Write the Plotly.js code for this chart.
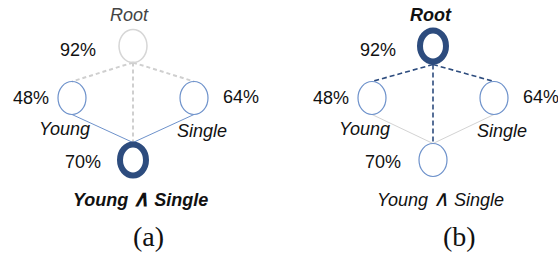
<!DOCTYPE html>
<html>
<head>
<meta charset="utf-8">
<script src="https://cdn.plot.ly/plotly-3.0.1.min.js"></script>
<style>html,body{margin:0;padding:0;background:#fff;}#chart{width:558px;height:261px;}</style>
</head>
<body>
<div id="chart"></div>
<script>
// ---- data ----
const panels = ["(a)", "(b)"];
const nodeNames = ["Root", "Young", "Single", "Young ∧ Single"];
const nodeSupport = ["92%", "48%", "64%", "70%"];
const nodeCol = [0, -1, 1, 0];      // column within lattice
const nodeLevel = [0, 1, 1, 2];     // lattice level
const edgesFrom = [0, 0, 0, 1, 2];
const edgesTo = [1, 2, 3, 3, 3];
const highlighted = [3, 0];         // highlighted node per panel

// ---- layout / style helpers ----
const panelX = [133, 433];
const colStep = 61;
const levelY = [46, 98, 160];
const navy = "#2D4C7E";
const lightBlue = "#6E92CB";
const grayLine = "#CFCFCF";
const grayEdge = "#D3D3D3";

function nx(p, i) { return panelX[p] + nodeCol[i] * colStep; }
function ny(i) { return levelY[nodeLevel[i]]; }
function isHi(p, i) { return highlighted[p] === i; }
function rx(p, i) { return isHi(p, i) ? 13 : 14; }
function ry(p, i) { return isHi(p, i) ? 15.5 : 16.5; }

const traces = [];
const shapes = [];
const annotations = [];

function fmtName(nm) {
  return nm.replace("∧", '<span style="font-size:22px">∧</span>');
}

panels.forEach((pl, p) => {
  // edges
  edgesFrom.forEach((f, k) => {
    const t = edgesTo[k];
    const fromRoot = f === 0;
    let color, dash, width;
    if (p === 0) {
      if (fromRoot) { color = grayLine; dash = "4px,3px"; width = 2; }
      else { color = lightBlue; dash = "solid"; width = 1; }
    } else {
      if (fromRoot) { color = navy; dash = "5px,3px"; width = 1.6; }
      else { color = grayEdge; dash = "solid"; width = 1; }
    }
    traces.push({
      type: "scatter", mode: "lines", hoverinfo: "skip", showlegend: false,
      x: [nx(p, f), nx(p, t)],
      y: [ny(f) + ry(p, f) + (isHi(p, f) ? 3 : 0), ny(t) - ry(p, t) - (isHi(p, t) ? 2 : 0)],
      line: { color: color, dash: dash, width: width }
    });
  });
  // nodes
  nodeNames.forEach((nm, i) => {
    const hi = isHi(p, i);
    let col = hi ? navy : lightBlue;
    let w = hi ? 6 : 1.2;
    if (!hi && i === 0) { col = "#D6D6D6"; w = 1.5; }
    shapes.push({
      type: "circle", xref: "x", yref: "y",
      x0: nx(p, i) - rx(p, i), x1: nx(p, i) + rx(p, i),
      y0: ny(i) - ry(p, i), y1: ny(i) + ry(p, i),
      line: { color: col, width: w }, fillcolor: "rgba(0,0,0,0)"
    });
  });
  // labels
  const font = { family: "Liberation Sans, Arial, sans-serif", size: 18, color: "#111" };
  const nameOff = [[-4, -31], [-8, 31], [8, 33], [7, 38]];
  nodeNames.forEach((nm, i) => {
    const hi = isHi(p, i);
    const inner = fmtName(nm);
    const txt = hi ? "<b><i>" + inner + "</i></b>" : "<i>" + inner + "</i>";
    let c = "#111";
    if (p === 0 && i === 0) c = "#444";
    annotations.push({
      xref: "x", yref: "y", x: nx(p, i) + nameOff[i][0] + (p === 1 && i === 0 ? 2 : 0), y: ny(i) + nameOff[i][1],
      text: txt, showarrow: false, xanchor: "center", yanchor: "middle",
      font: Object.assign({}, font, { color: c })
    });
  });
  const supOff = [[-55, 4], [-41, 0], [47, -1], [-50, 2]];
  nodeSupport.forEach((s, i) => {
    annotations.push({
      xref: "x", yref: "y", x: nx(p, i) + supOff[i][0], y: ny(i) + supOff[i][1],
      text: s, showarrow: false, xanchor: "center", yanchor: "middle", font: font
    });
  });
  // panel label
  annotations.push({
    xref: "x", yref: "y", x: panelX[p] + 15 + p * 11, y: 236,
    text: pl, showarrow: false, xanchor: "center", yanchor: "middle",
    font: { family: "Liberation Serif, Times New Roman, serif", size: 28, color: "#111" }
  });
});

const layout = {
  width: 558, height: 261,
  margin: { l: 0, r: 0, t: 0, b: 0 },
  paper_bgcolor: "#fff", plot_bgcolor: "#fff",
  xaxis: { range: [0, 558], visible: false, fixedrange: true },
  yaxis: { range: [261, 0], visible: false, fixedrange: true },
  shapes: shapes, annotations: annotations, showlegend: false
};
Plotly.newPlot("chart", traces, layout, { staticPlot: true, displayModeBar: false });
</script>
</body>
</html>
